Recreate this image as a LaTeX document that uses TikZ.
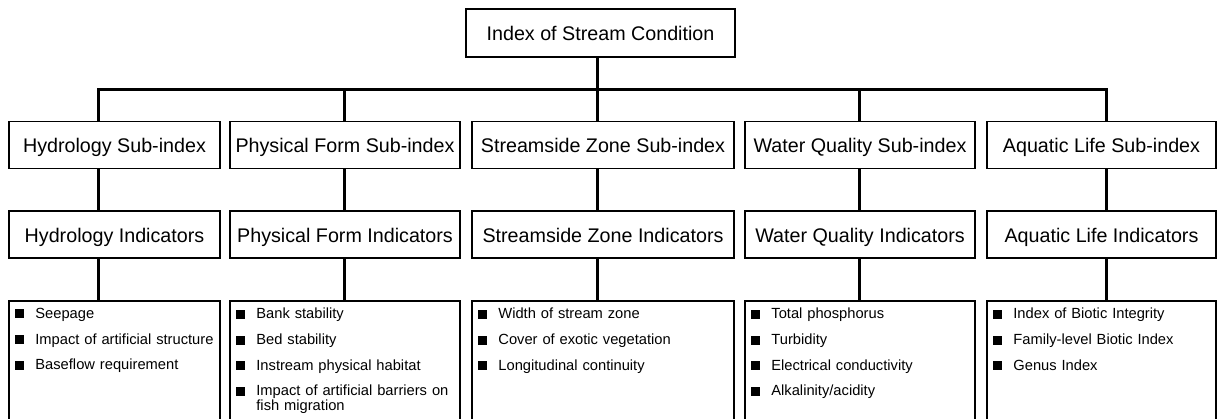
\documentclass[tikz,border=0pt]{standalone}
\usepackage{fontspec}
\setmainfont{Liberation Sans}

% one bullet line of a list box
\newcommand{\blt}[1]{\hangindent=20pt\hangafter=1\noindent\makebox[20pt][l]{\rule{9pt}{9pt}}#1\par}

\begin{document}
\begin{tikzpicture}[x=1pt,y=-1pt]
                      \tikzstyle{every node}+=[inner sep=0pt]
                      \tikzstyle{head}=[draw=black, line width=1.6pt, rectangle, minimum height=47pt, text height=17pt, text depth=1pt, font=\fontsize{19.7}{22}\selectfont]
                      \tikzstyle{frame}=[draw=black, line width=1.6pt, rectangle, minimum height=160pt]
                      \tikzstyle{items}=[anchor=north west, align=left, font=\fontsize{14.7}{15}\selectfont]
                      \tikzstyle{link}=[black, line width=3pt]
                      \useasboundingbox (0,0) rectangle (1221,419);
                      \fill [white] (0,0) rectangle (1221,419);
                      \clip (0,0) rectangle (1221,419);
                      % top box and the bus below it
                      \node [head, minimum width=269pt, minimum height=48pt] (isc) at (600.5,33) {Index of Stream Condition};
                      \coordinate (t1) at (98,90);
                      \coordinate (t2) at (344,90);
                      \coordinate (t3) at (597,90);
                      \coordinate (t4) at (859,90);
                      \coordinate (t5) at (1106,90);
                      % sub-index row
                      \node [head, minimum width=211pt] (hysub) at (114.5,145) {Hydrology Sub-index};
                      \node [head, minimum width=230pt] (pfsub) at (345,145) {Physical Form Sub-index};
                      \node [head, minimum width=262pt] (szsub) at (603,145) {Streamside Zone Sub-index};
                      \node [head, minimum width=230pt] (wqsub) at (860,145) {Water Quality Sub-index};
                      \node [head, minimum width=229pt] (alsub) at (1101.5,145) {Aquatic Life Sub-index};
                      % indicator row
                      \node [head, minimum width=211pt] (hyind) at (114.5,234.5) {Hydrology Indicators};
                      \node [head, minimum width=230pt] (pfind) at (345,234.5) {Physical Form Indicators};
                      \node [head, minimum width=262pt] (szind) at (603,234.5) {Streamside Zone Indicators};
                      \node [head, minimum width=230pt] (wqind) at (860,234.5) {Water Quality Indicators};
                      \node [head, minimum width=229pt] (alind) at (1101.5,234.5) {Aquatic Life Indicators};
                      % list boxes, running off the bottom
                      \node [frame, minimum width=211pt, anchor=north] (hylst) at (114.5,300) {};
                      \node [frame, minimum width=230pt, anchor=north] (pflst) at (345,300) {};
                      \node [frame, minimum width=262pt, anchor=north] (szlst) at (603,300) {};
                      \node [frame, minimum width=230pt, anchor=north] (wqlst) at (860,300) {};
                      \node [frame, minimum width=229pt, anchor=north] (allst) at (1101.5,300) {};
                      \node [items, text width=203pt] (hytxt) at ([shift={(7pt,-8pt)}]hylst.north west) {\blt{Seepage}\vspace{10.7pt}\blt{Impact of artificial structure}\vspace{10.7pt}\blt{Baseflow requirement}};
                      \node [items, text width=222pt] (pftxt) at ([shift={(7pt,-8pt)}]pflst.north west) {\blt{Bank stability}\vspace{10.7pt}\blt{Bed stability}\vspace{10.7pt}\blt{Instream physical habitat}\vspace{10.7pt}\blt{Impact of artificial barriers on fish migration}};
                      \node [items, text width=254pt] (sztxt) at ([shift={(7pt,-8pt)}]szlst.north west) {\blt{Width of stream zone}\vspace{10.7pt}\blt{Cover of exotic vegetation}\vspace{10.7pt}\blt{Longitudinal continuity}};
                      \node [items, text width=222pt] (wqtxt) at ([shift={(7pt,-8pt)}]wqlst.north west) {\blt{Total phosphorus}\vspace{10.7pt}\blt{Turbidity}\vspace{10.7pt}\blt{Electrical conductivity}\vspace{10.7pt}\blt{Alkalinity/acidity}};
                      \node [items, text width=221pt] (altxt) at ([shift={(7pt,-8pt)}]allst.north west) {\blt{Index of Biotic Integrity}\vspace{10.7pt}\blt{Family-level Biotic Index}\vspace{10.7pt}\blt{Genus Index}};
                      % connectors
                      \draw [link] (isc.south -| t3) -- (t3);
                      \draw [link] (hysub.north -| t1) -- (t1) -- (t5) -- (alsub.north -| t5);
                      \draw [link] (t2) -- (pfsub.north -| t2);
                      \draw [link] (t3) -- (szsub.north -| t3);
                      \draw [link] (t4) -- (wqsub.north -| t4);
                      \draw [link] (hysub.south -| t1) -- (hyind.north -| t1);
                      \draw [link] (pfsub.south -| t2) -- (pfind.north -| t2);
                      \draw [link] (szsub.south -| t3) -- (szind.north -| t3);
                      \draw [link] (wqsub.south -| t4) -- (wqind.north -| t4);
                      \draw [link] (alsub.south -| t5) -- (alind.north -| t5);
                      \draw [link] (hyind.south -| t1) -- (hylst.north -| t1);
                      \draw [link] (pfind.south -| t2) -- (pflst.north -| t2);
                      \draw [link] (szind.south -| t3) -- (szlst.north -| t3);
                      \draw [link] (wqind.south -| t4) -- (wqlst.north -| t4);
                      \draw [link] (alind.south -| t5) -- (allst.north -| t5);
                  \end{tikzpicture}
\end{document}
